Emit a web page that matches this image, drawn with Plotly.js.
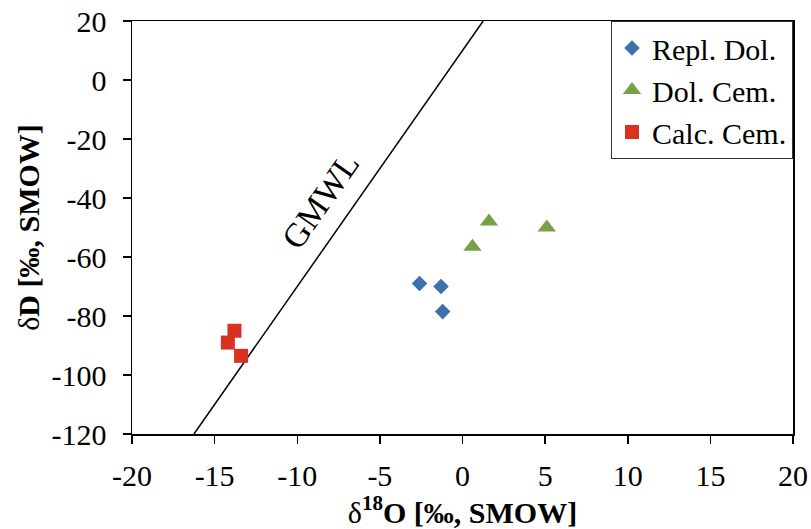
<!DOCTYPE html>
<html>
<head>
<meta charset="utf-8">
<script src="https://cdn.plot.ly/plotly-3.0.1.min.js"></script>
<style>html,body{margin:0;padding:0;background:#fff;}#chart{width:811px;height:529px;}</style>
</head>
<body>
<div id="chart"></div>
<script>
// Data
const replDolX = [-2.6, -1.3, -1.2];
const replDolY = [-69, -70, -78.5];
const dolCemX = [1.6, 5.1, 0.6];
const dolCemY = [-48, -50, -56.5];
const calcCemX = [-13.8, -14.2, -13.4];
const calcCemY = [-85, -89, -93.5];
// Global Meteoric Water Line endpoints (dD = 8 d18O + 10)
const gmwlX = [-16.25, 1.25];
const gmwlY = [-120, 20];
const xTicks = [-20, -15, -10, -5, 0, 5, 10, 15, 20];
const yTicks = [-120, -100, -80, -60, -40, -20, 0, 20];

const serif = '"Liberation Serif", "Times New Roman", serif';

const traces = [
  {x: gmwlX, y: gmwlY, mode: 'lines', line: {color: '#000', width: 1.5}, showlegend: false, hoverinfo: 'skip'},
  {x: replDolX, y: replDolY, mode: 'markers', name: 'Repl. Dol.',
   marker: {symbol: 'diamond', size: 12, color: '#3C70AE'}},
  {x: dolCemX, y: dolCemY, mode: 'markers', name: 'Dol. Cem.',
   marker: {symbol: 'triangle-up', size: 16, color: '#78A147'}},
  {x: calcCemX, y: calcCemY, mode: 'markers', name: 'Calc. Cem.',
   marker: {symbol: 'square', size: 14, color: '#D9301F'}}
];

function axisCommon() {
  return {
    showgrid: false, zeroline: false, showline: true, mirror: true,
    linecolor: '#000', linewidth: 1.5, ticks: 'outside', ticklen: 8, tickwidth: 1.5,
    tickcolor: '#000', tickfont: {family: serif, size: 30, color: '#000'}
  };
}

const layout = {
  width: 811, height: 529,
  font: {family: serif, size: 30, color: '#000'},
  margin: {l: 132, r: 18, t: 21, b: 95},
  paper_bgcolor: '#fff', plot_bgcolor: '#fff',
  xaxis: Object.assign(axisCommon(), {
    range: [-20, 20], tickmode: 'array', tickvals: xTicks, ticktext: xTicks.map(String),
    ticklabelstandoff: 6,
    title: {text: 'δ<b><sup>18</sup>O [‰, SMOW]</b>', font: {family: serif, size: 30, color: '#000'}, standoff: 2}
  }),
  yaxis: Object.assign(axisCommon(), {
    range: [-120, 20], tickmode: 'array', tickvals: yTicks, ticktext: yTicks.map(String),
    ticklabelstandoff: 10,
    title: {text: 'δ<b>D [‰, SMOW]</b>', font: {family: serif, size: 30, color: '#000'}, standoff: 3}
  }),
  legend: {
    x: 1, xanchor: 'right', y: 1, yanchor: 'top',
    bgcolor: '#fff', bordercolor: '#333', borderwidth: 1,
    font: {family: serif, size: 30, color: '#000'},
    itemwidth: 30, tracegroupgap: 0
  },
  annotations: [{
    x: -8.6, y: -40.7, xref: 'x', yref: 'y', text: 'GMWL', showarrow: false,
    textangle: -55, font: {family: serif, size: 34, color: '#000'}
  }]
};

Plotly.newPlot('chart', traces, layout, {displayModeBar: false, staticPlot: true});
</script>
</body>
</html>
